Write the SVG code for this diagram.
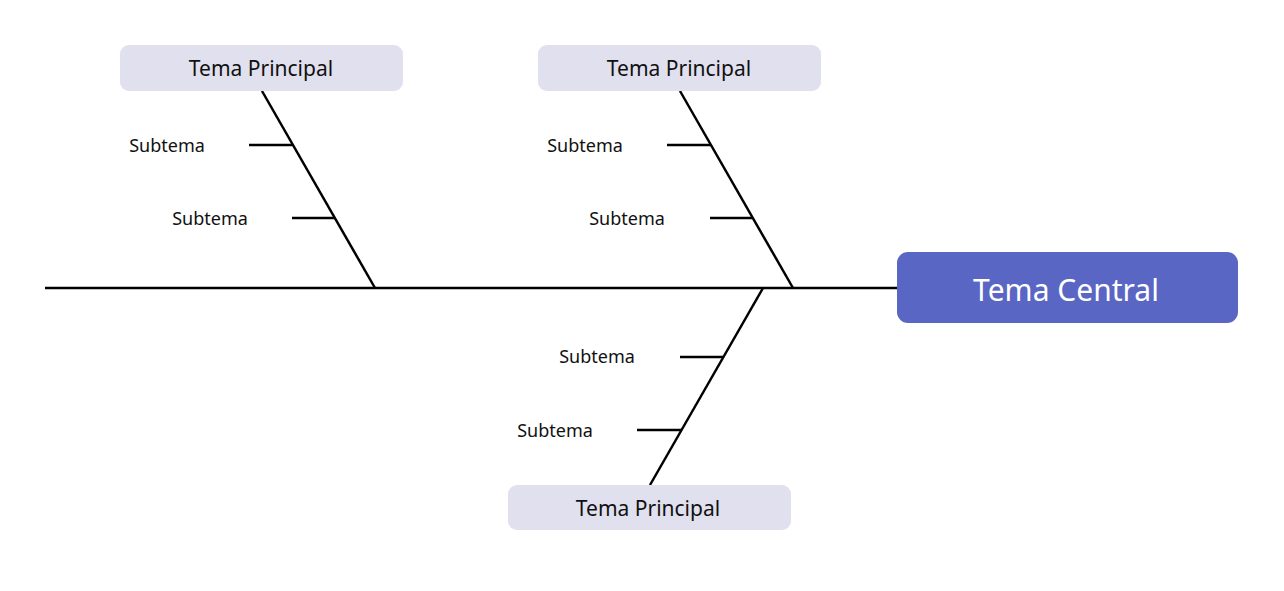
<svg xmlns="http://www.w3.org/2000/svg" width="1284" height="591" viewBox="0 0 1284 591">
<style>
.bone{stroke:#000;stroke-width:2.5;fill:none;stroke-linecap:butt}
.main{fill:#e0e0ee}
.mainT{font-family:"Noto Sans","Open Sans",sans-serif;font-size:21px;fill:#111;text-anchor:middle}
.sub{font-family:"Noto Sans","Open Sans",sans-serif;font-size:18px;fill:#111;text-anchor:middle}
</style>
<rect width="1284" height="591" fill="#fff"/>
<g id="connectors">
<line class="bone" x1="45" y1="288" x2="897" y2="288"/>
<line class="bone" x1="262" y1="91" x2="375" y2="288"/>
<line class="bone" x1="249" y1="145" x2="293" y2="145"/>
<line class="bone" x1="292" y1="218" x2="335" y2="218"/>
<line class="bone" x1="680" y1="91" x2="793" y2="288"/>
<line class="bone" x1="667" y1="145" x2="711" y2="145"/>
<line class="bone" x1="710" y1="218" x2="753" y2="218"/>
<line class="bone" x1="763" y1="288" x2="650" y2="485"/>
<line class="bone" x1="680" y1="357" x2="723" y2="357"/>
<line class="bone" x1="637" y1="430" x2="681" y2="430"/>
</g>
<g id="central">
<rect x="897" y="252" width="341" height="71" rx="11" fill="#5a66c4"/>
<text x="1066" y="301" font-family="Noto Sans, Open Sans, sans-serif" font-size="30" fill="#fff" text-anchor="middle">Tema Central</text>
</g>
<g id="main1">
<rect class="main" x="120" y="45" width="283" height="46" rx="9"/>
<text class="mainT" x="261" y="76">Tema Principal</text>
</g>
<g id="main2">
<rect class="main" x="538" y="45" width="283" height="46" rx="9"/>
<text class="mainT" x="679" y="76">Tema Principal</text>
</g>
<g id="main3">
<rect class="main" x="508" y="485" width="283" height="45" rx="9"/>
<text class="mainT" x="648" y="516">Tema Principal</text>
</g>
<g id="sub1a"><text class="sub" x="167" y="152">Subtema</text></g>
<g id="sub1b"><text class="sub" x="210" y="225">Subtema</text></g>
<g id="sub2a"><text class="sub" x="585" y="152">Subtema</text></g>
<g id="sub2b"><text class="sub" x="627" y="225">Subtema</text></g>
<g id="sub3a"><text class="sub" x="597" y="363">Subtema</text></g>
<g id="sub3b"><text class="sub" x="555" y="437">Subtema</text></g>
</svg>
